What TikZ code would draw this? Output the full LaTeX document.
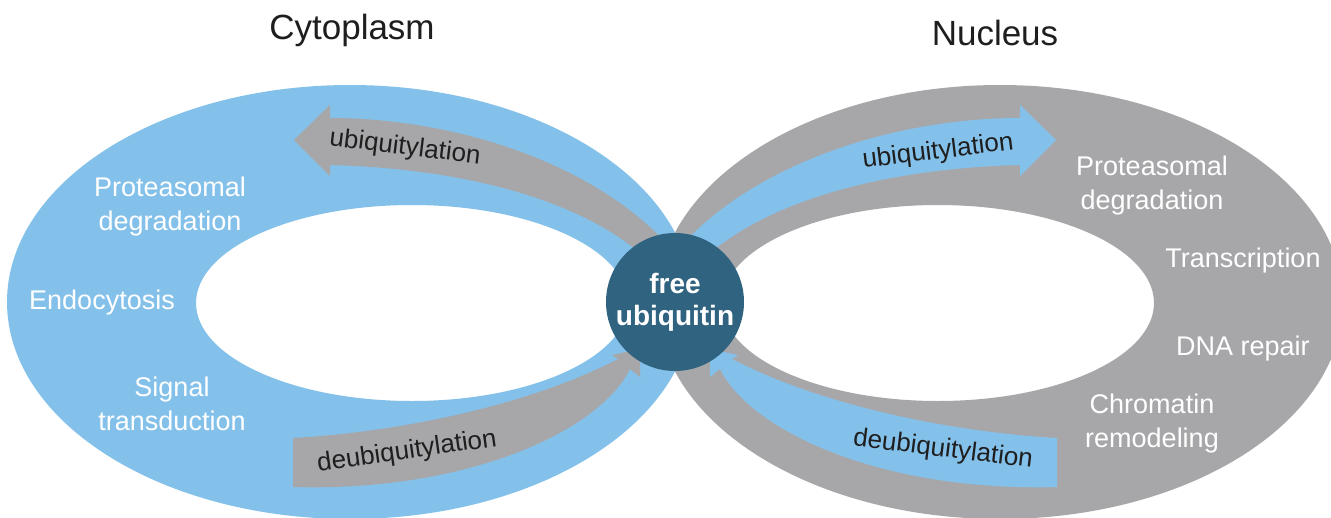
\documentclass[tikz,border=0pt]{standalone}
\usepackage{fontspec}
\setmainfont{Liberation Sans}
\definecolor{ringblue}{HTML}{84C1EA}
\definecolor{ringgray}{HTML}{A7A7AA}
\definecolor{hub}{HTML}{2F6380}
\definecolor{ink}{HTML}{1E1E1E}
\tikzset{
  ringlabel/.style={text=white, font=\fontsize{27}{34}\selectfont, align=center, inner sep=0pt},
  arrowlabel/.style={text=ink, font=\fontsize{26}{30}\selectfont, inner sep=0pt},
  titlelabel/.style={text=ink, font=\fontsize{35}{40}\selectfont, inner sep=0pt},
  hubnode/.style={circle, fill=hub, minimum size=138pt, inner sep=0pt, text=white,
    font=\bfseries\fontsize{28}{32}\selectfont, align=center},
}
\begin{document}
\begin{tikzpicture}[x=1pt, y=-1pt]
\useasboundingbox (0,0) rectangle (1331,517);
\fill[white] (0,0) rectangle (1331,517);

% rings
\fill[ringblue, even odd rule] (350,302) ellipse [x radius=343pt, y radius=217pt]
  (412,303) ellipse [x radius=216pt, y radius=98pt];
\fill[ringgray, even odd rule] (1000,302) ellipse [x radius=343pt, y radius=217pt]
  (938,303) ellipse [x radius=216pt, y radius=98pt];

% left arrows (gray)
\fill[ringgray] (294,140) -- (330,105) -- (330,118)
  .. controls (450,118) and (590,160) .. (668,245) -- (650,262)
  .. controls (580,195) and (450,168) .. (330,165) -- (330,176) -- cycle;
\fill[ringgray] (293,438) .. controls (400,432) and (530,405) .. (618,359)
  -- (612,355) -- (640,349) -- (640,377) -- (630,369)
  .. controls (600,430) and (470,492) .. (293,487) -- cycle;

% right arrows (blue), mirror images
\begin{scope}[shift={(1350,0)}, xscale=-1]
\fill[ringblue] (294,140) -- (330,105) -- (330,118)
  .. controls (450,118) and (590,160) .. (668,245) -- (650,262)
  .. controls (580,195) and (450,168) .. (330,165) -- (330,176) -- cycle;
\fill[ringblue] (293,438) .. controls (400,432) and (530,405) .. (618,359)
  -- (612,355) -- (640,349) -- (640,377) -- (630,369)
  .. controls (600,430) and (470,492) .. (293,487) -- cycle;
\end{scope}

% hub
\node[hubnode] (hub) at (675,302) {free\\ubiquitin};

% titles
\node[titlelabel] (cyto) at (352,30) {Cytoplasm};
\node[titlelabel] (nucl) at (995,33) {Nucleus};

% arrow labels
\node[arrowlabel, rotate=-7] (ubl) at (405,148) {ubiquitylation};
\node[arrowlabel, rotate=7] (ubr) at (938,152) {ubiquitylation};
\node[arrowlabel, rotate=8] (dubl) at (407,452) {deubiquitylation};
\node[arrowlabel, rotate=-7] (dubr) at (943,450) {deubiquitylation};

% ring labels
\node[ringlabel] (lprot) at (170,207) {Proteasomal\\degradation};
\node[ringlabel] (lendo) at (102,303) {Endocytosis};
\node[ringlabel] (lsig) at (172,404) {Signal\\transduction};
\node[ringlabel] (rprot) at (1152,186) {Proteasomal\\degradation};
\node[ringlabel] (rtrans) at (1243,261) {Transcription};
\node[ringlabel] (rdna) at (1243,349) {DNA repair};
\node[ringlabel] (rchrom) at (1152,424) {Chromatin\\remodeling};
\end{tikzpicture}
\end{document}
